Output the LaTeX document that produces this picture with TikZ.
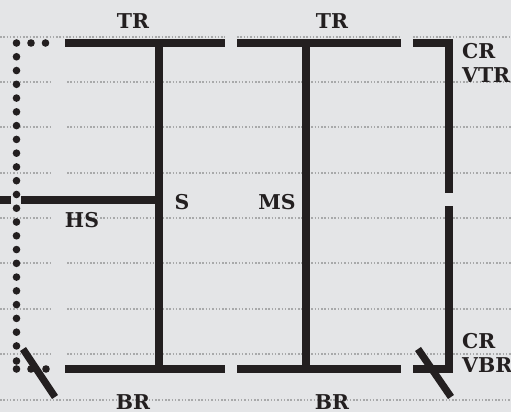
\documentclass[tikz,border=0pt]{standalone}
\usepackage{fontspec}
\setmainfont{DejaVu Serif}
\definecolor{pagegray}{HTML}{E4E5E7}
\definecolor{rulegray}{HTML}{A8A9AA}
\definecolor{inkblack}{HTML}{231F20}
\tikzset{
    guide/.style={draw=rulegray, line width=1.1pt, dash pattern=on 1.5pt off 1.8pt},
    heavy/.style={draw=inkblack, line width=7.2pt},
    spot/.style={circle, fill=inkblack, inner sep=0pt, minimum size=7.6pt},
    tag/.style={text=inkblack, font=\fontsize{20.4}{20}\selectfont\bfseries, inner sep=0pt}
}
\begin{document}
\begin{tikzpicture}[x=1pt, y=-1pt]
    \fill[pagegray] (0,0) rectangle (511,412);
    \useasboundingbox (0,0) rectangle (511,412);
    % guide rules
    \draw[guide] (0,37) -- (225,37);
    \draw[guide] (237,37) -- (401,37);
    \draw[guide] (413,37) -- (511,37);
    \foreach \y in {82,127,173,218,263,309,354} {
        \draw[guide] (0,\y) -- (52,\y);
        \draw[guide] (67,\y) -- (511,\y);
    }
    \draw[guide] (0,400) -- (511,400);
    % end points of the heavy lines
    \coordinate (tl) at (65,43);
    \coordinate (tm) at (225,43);
    \coordinate (tn) at (237,43);
    \coordinate (to) at (401,43);
    \coordinate (tp) at (413,43);
    \coordinate (tr) at (449,43);
    \coordinate (bl) at (65,369);
    \coordinate (bm) at (225,369);
    \coordinate (bn) at (237,369);
    \coordinate (bo) at (401,369);
    \coordinate (bp) at (413,369);
    \coordinate (br) at (449,369);
    \coordinate (st) at (159,43);
    \coordinate (sb) at (159,369);
    \coordinate (mt) at (306,43);
    \coordinate (mb) at (306,369);
    \coordinate (rg) at (449,193);
    \coordinate (rh) at (449,206);
    \coordinate (ha) at (0,200);
    \coordinate (hb) at (11,200);
    \coordinate (hc) at (21,200);
    \coordinate (hd) at (159,200);
    \coordinate (la) at (23,349);
    \coordinate (lb) at (55,397);
    \coordinate (ra) at (418,349);
    \coordinate (rb) at (451,397);
    \draw[heavy] (tl) -- (tm);
    \draw[heavy] (tn) -- (to);
    \draw[heavy, line join=miter] (tp) -- (tr) -- (rg);
    \draw[heavy] (bl) -- (bm);
    \draw[heavy] (bn) -- (bo);
    \draw[heavy, line join=miter] (bp) -- (br) -- (rh);
    \draw[heavy] (st) -- (sb);
    \draw[heavy] (mt) -- (mb);
    \draw[heavy] (ha) -- (hb);
    \draw[heavy] (hc) -- (hd);
    \draw[heavy] (la) -- (lb);
    \draw[heavy] (ra) -- (rb);
    % dots
    \foreach \i in {0,...,22} {
        \node[spot] (d\i) at (16.5,43+13.77*\i) {};
    }
    \node[spot] (dx) at (16.5,361) {};
    \node[spot] (dy) at (16.5,369) {};
    \node[spot] (ea) at (31,43) {};
    \node[spot] (eb) at (45.5,43) {};
    \node[spot] (fa) at (31,369) {};
    \node[spot] (fb) at (46,369) {};
    % labels
    \node[tag] (toplefttag) at (133,21) {TR};
    \node[tag] (toprighttag) at (332,21) {TR};
    \node[tag] (botlefttag) at (133,402) {BR};
    \node[tag] (botrighttag) at (332,402) {BR};
    \node[tag, anchor=west] (crtop) at (462,51) {CR};
    \node[tag, anchor=west] (vtr) at (462,75) {VTR};
    \node[tag, anchor=west] (crbot) at (462,341) {CR};
    \node[tag, anchor=west] (vbr) at (462,365) {VBR};
    \node[tag] (stag) at (182,202) {S};
    \node[tag] (mstag) at (277,202) {MS};
    \node[tag] (hstag) at (82,220) {HS};
\end{tikzpicture}
\end{document}
